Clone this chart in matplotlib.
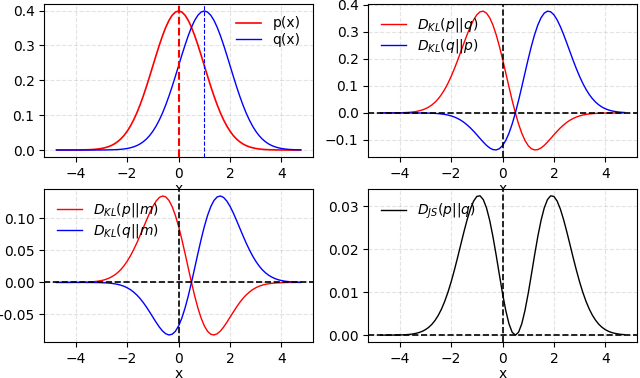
import matplotlib
matplotlib.use("Agg")
import matplotlib.pyplot as plt

# sample positions (step 0.125)
x = [-4.75, -4.625, -4.5, -4.375, -4.25, -4.125, -4.0, -3.875, -3.75, -3.625,
     -3.5, -3.375, -3.25, -3.125, -3.0, -2.875, -2.75, -2.625, -2.5, -2.375,
     -2.25, -2.125, -2.0, -1.875, -1.75, -1.625, -1.5, -1.375, -1.25, -1.125,
     -1.0, -0.875, -0.75, -0.625, -0.5, -0.375, -0.25, -0.125, 0.0, 0.125,
     0.25, 0.375, 0.5, 0.625, 0.75, 0.875, 1.0, 1.125, 1.25, 1.375,
     1.5, 1.625, 1.75, 1.875, 2.0, 2.125, 2.25, 2.375, 2.5, 2.625,
     2.75, 2.875, 3.0, 3.125, 3.25, 3.375, 3.5, 3.625, 3.75, 3.875,
     4.0, 4.125, 4.25, 4.375, 4.5, 4.625, 4.75]

p_x = [0.0000, 0.0000, 0.0000, 0.0000, 0.0000, 0.0001, 0.0001, 0.0002, 0.0004, 0.0006,
       0.0009, 0.0013, 0.0020, 0.0030, 0.0044, 0.0064, 0.0091, 0.0127, 0.0175, 0.0238,
       0.0317, 0.0417, 0.0540, 0.0688, 0.0863, 0.1065, 0.1295, 0.1550, 0.1826, 0.2119,
       0.2420, 0.2721, 0.3011, 0.3282, 0.3521, 0.3719, 0.3867, 0.3958, 0.3989, 0.3958,
       0.3867, 0.3719, 0.3521, 0.3282, 0.3011, 0.2721, 0.2420, 0.2119, 0.1826, 0.1550,
       0.1295, 0.1065, 0.0863, 0.0688, 0.0540, 0.0417, 0.0317, 0.0238, 0.0175, 0.0127,
       0.0091, 0.0064, 0.0044, 0.0030, 0.0020, 0.0013, 0.0009, 0.0006, 0.0004, 0.0002,
       0.0001, 0.0001, 0.0000, 0.0000, 0.0000, 0.0000, 0.0000]

q_x = [0.0000, 0.0000, 0.0000, 0.0000, 0.0000, 0.0000, 0.0000, 0.0000, 0.0000, 0.0000,
       0.0000, 0.0000, 0.0000, 0.0001, 0.0001, 0.0002, 0.0004, 0.0006, 0.0009, 0.0013,
       0.0020, 0.0030, 0.0044, 0.0064, 0.0091, 0.0127, 0.0175, 0.0238, 0.0317, 0.0417,
       0.0540, 0.0688, 0.0863, 0.1065, 0.1295, 0.1550, 0.1826, 0.2119, 0.2420, 0.2721,
       0.3011, 0.3282, 0.3521, 0.3719, 0.3867, 0.3958, 0.3989, 0.3958, 0.3867, 0.3719,
       0.3521, 0.3282, 0.3011, 0.2721, 0.2420, 0.2119, 0.1826, 0.1550, 0.1295, 0.1065,
       0.0863, 0.0688, 0.0540, 0.0417, 0.0317, 0.0238, 0.0175, 0.0127, 0.0091, 0.0064,
       0.0044, 0.0030, 0.0020, 0.0013, 0.0009, 0.0006, 0.0004]

kl_pq = [0.0000, 0.0000, 0.0001, 0.0001, 0.0002, 0.0004, 0.0006, 0.0010, 0.0015, 0.0023,
         0.0035, 0.0052, 0.0076, 0.0110, 0.0155, 0.0216, 0.0296, 0.0398, 0.0526, 0.0683,
         0.0873, 0.1095, 0.1350, 0.1634, 0.1941, 0.2264, 0.2590, 0.2906, 0.3196, 0.3443,
         0.3630, 0.3741, 0.3764, 0.3692, 0.3521, 0.3254, 0.2900, 0.2474, 0.1995, 0.1484,
         0.0967, 0.0465, 0.0000, -0.0410, -0.0753, -0.1020, -0.1210, -0.1324, -0.1370, -0.1356,
         -0.1295, -0.1199, -0.1078, -0.0946, -0.0810, -0.0678, -0.0555, -0.0446, -0.0351, -0.0270,
         -0.0205, -0.0152, -0.0111, -0.0079, -0.0056, -0.0039, -0.0026, -0.0017, -0.0011, -0.0007,
         -0.0005, -0.0003, -0.0002, -0.0001, -0.0001, 0.0000, 0.0000]

kl_qp = [0.0000, 0.0000, 0.0000, 0.0000, 0.0000, 0.0000, 0.0000, 0.0000, 0.0000, 0.0000,
         -0.0001, -0.0001, -0.0002, -0.0003, -0.0005, -0.0007, -0.0011, -0.0017, -0.0026, -0.0039,
         -0.0056, -0.0079, -0.0111, -0.0152, -0.0205, -0.0270, -0.0351, -0.0446, -0.0555, -0.0678,
         -0.0810, -0.0946, -0.1078, -0.1199, -0.1295, -0.1356, -0.1370, -0.1324, -0.1210, -0.1020,
         -0.0753, -0.0410, 0.0000, 0.0465, 0.0967, 0.1484, 0.1995, 0.2474, 0.2900, 0.3254,
         0.3521, 0.3692, 0.3764, 0.3741, 0.3630, 0.3443, 0.3196, 0.2906, 0.2590, 0.2264,
         0.1941, 0.1634, 0.1350, 0.1095, 0.0873, 0.0683, 0.0526, 0.0398, 0.0296, 0.0216,
         0.0155, 0.0110, 0.0076, 0.0052, 0.0035, 0.0023, 0.0015]

kl_pm = [0.0000, 0.0000, 0.0000, 0.0000, 0.0000, 0.0001, 0.0001, 0.0001, 0.0002, 0.0004,
         0.0006, 0.0009, 0.0014, 0.0020, 0.0029, 0.0042, 0.0060, 0.0083, 0.0113, 0.0152,
         0.0200, 0.0260, 0.0332, 0.0416, 0.0512, 0.0618, 0.0733, 0.0853, 0.0973, 0.1088,
         0.1190, 0.1272, 0.1329, 0.1352, 0.1337, 0.1282, 0.1184, 0.1047, 0.0874, 0.0673,
         0.0453, 0.0225, 0.0000, -0.0212, -0.0400, -0.0558, -0.0680, -0.0764, -0.0810, -0.0822,
         -0.0803, -0.0760, -0.0698, -0.0624, -0.0544, -0.0464, -0.0386, -0.0315, -0.0251, -0.0197,
         -0.0151, -0.0113, -0.0084, -0.0060, -0.0043, -0.0030, -0.0021, -0.0014, -0.0009, -0.0006,
         -0.0004, -0.0002, -0.0001, -0.0001, -0.0001, 0.0000, 0.0000]

kl_qm = [0.0000, 0.0000, 0.0000, 0.0000, 0.0000, 0.0000, 0.0000, 0.0000, 0.0000, 0.0000,
         -0.0001, -0.0001, -0.0001, -0.0002, -0.0004, -0.0006, -0.0009, -0.0014, -0.0021, -0.0030,
         -0.0043, -0.0060, -0.0084, -0.0113, -0.0151, -0.0197, -0.0251, -0.0315, -0.0386, -0.0464,
         -0.0544, -0.0624, -0.0698, -0.0760, -0.0803, -0.0822, -0.0810, -0.0764, -0.0680, -0.0558,
         -0.0400, -0.0212, 0.0000, 0.0225, 0.0453, 0.0673, 0.0874, 0.1047, 0.1184, 0.1282,
         0.1337, 0.1352, 0.1329, 0.1272, 0.1190, 0.1088, 0.0973, 0.0853, 0.0733, 0.0618,
         0.0512, 0.0416, 0.0332, 0.0260, 0.0200, 0.0152, 0.0113, 0.0083, 0.0060, 0.0042,
         0.0029, 0.0020, 0.0014, 0.0009, 0.0006, 0.0004, 0.0002]

js_pq = [0.00000, 0.00000, 0.00001, 0.00001, 0.00002, 0.00003, 0.00004, 0.00007, 0.00011, 0.00017,
         0.00027, 0.00041, 0.00061, 0.00089, 0.00128, 0.00181, 0.00252, 0.00345, 0.00462, 0.00609,
         0.00787, 0.00998, 0.01240, 0.01512, 0.01804, 0.02109, 0.02410, 0.02692, 0.02936, 0.03120,
         0.03227, 0.03242, 0.03154, 0.02962, 0.02671, 0.02299, 0.01869, 0.01414, 0.00971, 0.00577,
         0.00265, 0.00068, 0.00000, 0.00068, 0.00265, 0.00577, 0.00971, 0.01414, 0.01869, 0.02299,
         0.02671, 0.02962, 0.03154, 0.03242, 0.03227, 0.03120, 0.02936, 0.02692, 0.02410, 0.02109,
         0.01804, 0.01512, 0.01240, 0.00998, 0.00787, 0.00609, 0.00462, 0.00345, 0.00252, 0.00181,
         0.00128, 0.00089, 0.00061, 0.00041, 0.00027, 0.00017, 0.00011]

fig = plt.figure(figsize=(6.4, 3.78), dpi=100)
ax1 = fig.add_axes([0.0692, 0.5847, 0.4198, 0.4048])
ax2 = fig.add_axes([0.5755, 0.5847, 0.4194, 0.4048])
ax3 = fig.add_axes([0.0692, 0.0952, 0.4198, 0.4048])
ax4 = fig.add_axes([0.5755, 0.0952, 0.4194, 0.4048])

leg_kw = dict(frameon=False, handlelength=1.8, labelspacing=0.2)

# top left: the two densities
ax1.plot(x, p_x, color='red', lw=1.2, label='p(x)')
ax1.plot(x, q_x, color='blue', lw=1.0, label='q(x)')
ax1.axvline(0, color='red', ls='--', lw=1.5)
ax1.axvline(1, color='blue', ls='--', lw=0.8)
ax1.set_ylim(-0.02, 0.419)
ax1.legend(loc='upper right', **leg_kw)

# top right: KL in both directions
ax2.plot(x, kl_pq, color='red', lw=1.0, label=r'$D_{KL}(p||q)$')
ax2.plot(x, kl_qp, color='blue', lw=1.0, label=r'$D_{KL}(q||p)$')
ax2.set_ylim(-0.163, 0.403)
ax2.set_yticks([-0.1, 0.0, 0.1, 0.2, 0.3, 0.4])
ax2.legend(loc='upper left', **leg_kw)

# bottom left: KL to the mixture m
ax3.plot(x, kl_pm, color='red', lw=1.0, label=r'$D_{KL}(p||m)$')
ax3.plot(x, kl_qm, color='blue', lw=1.0, label=r'$D_{KL}(q||m)$')
ax3.set_ylim(-0.0932, 0.1461)
ax3.legend(loc='upper left', **leg_kw)

# bottom right: JS
ax4.plot(x, js_pq, color='black', lw=1.0, label=r'$D_{JS}(p||q)$')
ax4.set_ylim(-0.0016, 0.034)
ax4.legend(loc='upper left', **leg_kw)

for ax in [ax2, ax3, ax4]:
    ax.axvline(0, color='black', ls='--', lw=1.2)
    ax.axhline(0, color='black', ls='--', lw=1.2)

for ax in [ax1, ax2, ax3, ax4]:
    ax.set_xlim(-5.225, 5.225)
    ax.set_xticks([-4, -2, 0, 2, 4])
    ax.grid(True, ls='--', lw=0.8, alpha=0.35)
    ax.set_xlabel('x', labelpad=1)

fig.savefig('out.png', dpi=100)
